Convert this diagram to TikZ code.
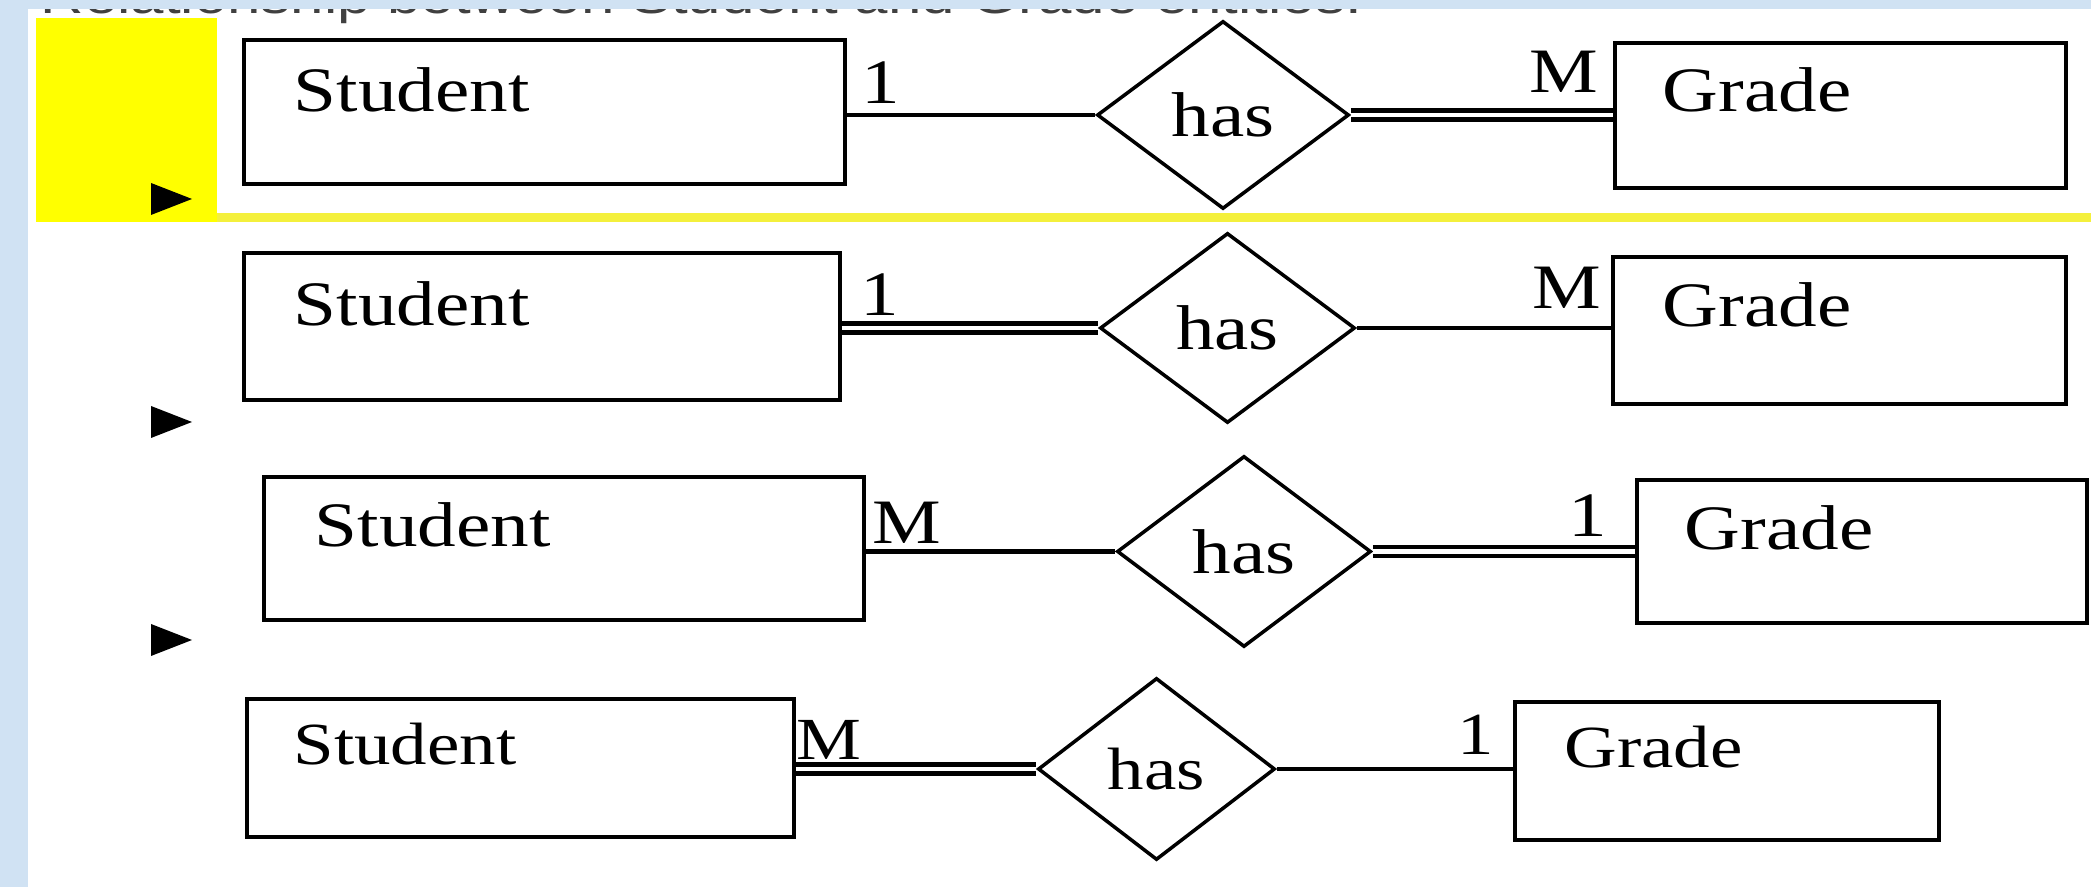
\documentclass[tikz,border=0pt]{standalone}
\usepackage{fontspec}
\setmainfont[FakeStretch=1.22]{Liberation Serif}
\newfontfamily\headfont[FakeStretch=1.22]{Liberation Sans}
\usepackage{tikz}
\usetikzlibrary{shapes.geometric}
\usetikzlibrary{positioning}
\usetikzlibrary{math}
\definecolor{slideblue}{RGB}{208,226,243}
\definecolor{markyellow}{RGB}{255,255,0}
\definecolor{lineyellow}{RGB}{244,240,60}
\tikzstyle{entity} = [rectangle, draw=black, line width=1pt, inner sep=0pt, fill=white]
\tikzstyle{relation} = [diamond, draw=black, line width=1pt, inner sep=0pt, fill=white]
\tikzstyle{etext} = [anchor=base west, inner sep=0pt]
\tikzstyle{card} = [anchor=base west, inner sep=0pt]
\tikzstyle{partial} = [line width=1.3pt]
\tikzstyle{total} = [line width=1.2pt, double, double distance=1.4pt]

\begin{document}
\begin{tikzpicture}[font=\fontsize{18}{20}\selectfont]

  \tikzmath{\W = 20.91; \H = 8.87;}
  \useasboundingbox (0,0) rectangle (\W,\H);
  \clip (0,0) rectangle (\W,\H);

  % slide background
  \fill[white] (0,0) rectangle (\W,\H);
  \node[anchor=base west, inner sep=0pt, font=\headfont\fontsize{14}{16}\selectfont, text=black!75] (title) at (0.40,8.73) {Relationship between Student and Grade entities.};
  \fill[slideblue] (0,0) rectangle (0.28,\H);
  \fill[slideblue] (0,\H-0.09) rectangle (\W,\H);

  % highlight
  \fill[markyellow] (0.36,6.65) rectangle (2.17,8.69);
  \fill[lineyellow] (2.17,6.65) rectangle (\W,6.74);

  % bullets
  \foreach \y in {6.88, 4.65, 2.47}
    \fill (1.51,\y+0.16) -- (1.92,\y) -- (1.51,\y-0.16) -- cycle;

  % Fig 1
  \node[entity, minimum width=6.01cm, minimum height=1.44cm] (s1) at (5.445,7.75) {};
  \node[relation, minimum width=2.52cm, minimum height=1.88cm] (r1) at (12.23,7.72) {has};
  \node[entity, minimum width=4.51cm, minimum height=1.45cm] (g1) at (18.405,7.715) {};
  \node[etext] (s1t) at (2.93,7.75) {Student};
  \node[etext] (g1t) at (16.62,7.75) {Grade};
  \node[card] (c1a) at (8.61,7.83) {1};
  \node[card] (c1b) at (15.29,7.94) {M};
  \draw[partial] (s1.east |- r1.west) -- (r1.west);
  \draw[total] (r1.east) -- (r1.east -| g1.west);

  % Fig 2
  \node[entity, minimum width=5.96cm, minimum height=1.47cm] (s2) at (5.42,5.605) {};
  \node[relation, minimum width=2.55cm, minimum height=1.90cm] (r2) at (12.275,5.59) {has};
  \node[entity, minimum width=4.53cm, minimum height=1.47cm] (g2) at (18.395,5.565) {};
  \node[etext] (s2t) at (2.93,5.61) {Student};
  \node[etext] (g2t) at (16.62,5.60) {Grade};
  \node[card] (c2a) at (8.60,5.71) {1};
  \node[card] (c2b) at (15.32,5.78) {M};
  \draw[total] (s2.east |- r2.west) -- (r2.west);
  \draw[partial] (r2.east) -- (r2.east -| g2.west);

  % Fig 3
  \node[entity, minimum width=6.00cm, minimum height=1.43cm] (s3) at (5.64,3.385) {};
  \node[relation, minimum width=2.54cm, minimum height=1.91cm] (r3) at (12.44,3.355) {has};
  \node[entity, minimum width=4.50cm, minimum height=1.43cm] (g3) at (18.62,3.355) {};
  \node[etext] (s3t) at (3.14,3.40) {Student};
  \node[etext] (g3t) at (16.84,3.37) {Grade};
  \node[card] (c3a) at (8.72,3.43) {M};
  \node[card] (c3b) at (15.68,3.50) {1};
  \draw[partial] (s3.east |- r3.west) -- (r3.west);
  \draw[total] (r3.east) -- (r3.east -| g3.west);

  % Fig 4
  \begin{scope}[font=\fontsize{17}{19}\selectfont]
  \node[entity, minimum width=5.47cm, minimum height=1.38cm] (s4) at (5.205,1.19) {};
  \node[relation, minimum width=2.37cm, minimum height=1.82cm] (r4) at (11.565,1.18) {has};
  \node[entity, minimum width=4.24cm, minimum height=1.38cm] (g4) at (17.27,1.16) {};
  \node[etext] (s4t) at (2.93,1.22) {Student};
  \node[etext] (g4t) at (15.64,1.19) {Grade};
  \node[card] (c4a) at (7.96,1.27) {M};
  \node[card] (c4b) at (14.57,1.32) {1};
  \draw[total] (s4.east |- r4.west) -- (r4.west);
  \draw[partial] (r4.east) -- (r4.east -| g4.west);
  \end{scope}

\end{tikzpicture}
\end{document}
